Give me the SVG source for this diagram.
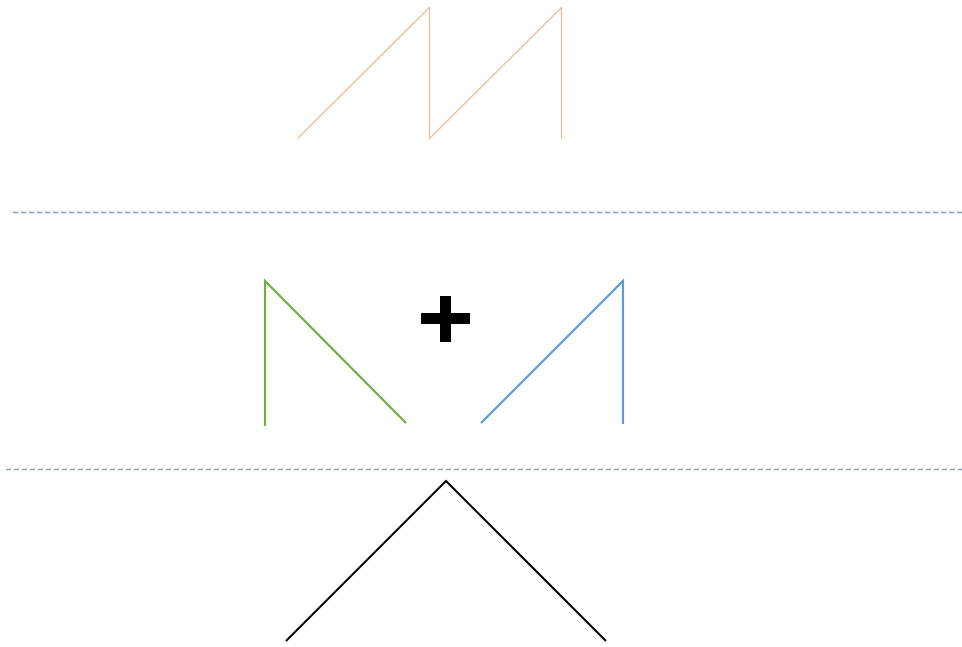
<svg xmlns="http://www.w3.org/2000/svg" width="962" height="647" viewBox="0 0 962 647">
<style>
.dash{stroke:#87A2B4;stroke-width:1.3;stroke-dasharray:5,3;fill:none}
.wave{fill:none;stroke-linejoin:miter}
</style>
<rect width="962" height="647" fill="#fff"/>
<g id="sawtooth">
<polyline class="wave" points="297.5,138.5 429.5,7.5 429.5,138.5 561.5,7.5 561.5,138.5" stroke="#F2B98E" stroke-width="1.2"/>
</g>
<g id="separators">
<line class="dash" x1="13" y1="212.5" x2="962" y2="212.5"/>
<line class="dash" x1="6" y1="469.5" x2="962" y2="469.5"/>
</g>
<g id="green-wave">
<polyline class="wave" points="265,426 265,281 406,423" stroke="#70AD47" stroke-width="2.2"/>
</g>
<g id="plus">
<path d="M440,296 H451 V313 H470 V324 H451 V342 H440 V324 H421 V313 H440 Z" fill="#000"/>
</g>
<g id="blue-wave">
<polyline class="wave" points="481,423 623,281 623,424" stroke="#5B9BD5" stroke-width="2.2"/>
</g>
<g id="triangle-wave">
<polyline class="wave" points="286,641 446,481 606,641" stroke="#000" stroke-width="2"/>
</g>
</svg>
